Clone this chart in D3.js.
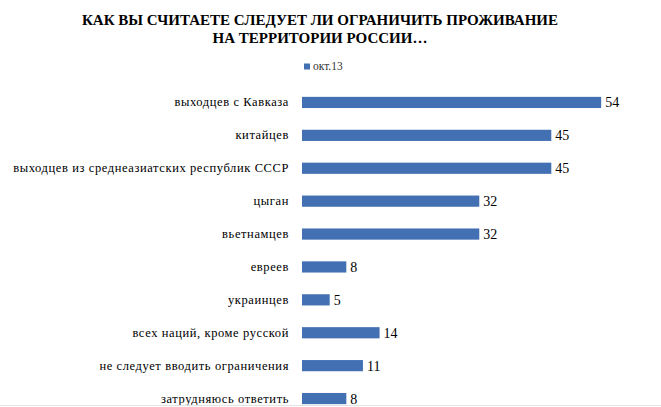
<!DOCTYPE html>
<html>
<head>
<meta charset="utf-8">
<script src="https://cdn.jsdelivr.net/npm/d3@7"></script>
<style>
body { margin: 0; background: #fff; }
svg { display: block; }
</style>
</head>
<body>
<div id="chart"></div>
<script>

var width = 661,
	height = 407,
	bar_x0 = 302,
	px_per_unit = 5.54,
	barcolor = "#4270B2",
	serif = "Tinos, 'Times New Roman', serif";

// data

var categories = [
	"выходцев с Кавказа",
	"китайцев",
	"выходцев из среднеазиатских республик СССР",
	"цыган",
	"вьетнамцев",
	"евреев",
	"украинцев",
	"всех наций, кроме русской",
	"не следует вводить ограничения",
	"затрудняюсь ответить"
];
var values = [54, 45, 45, 32, 32, 8, 5, 14, 11, 8];
var series_name = "окт.13";
var title_lines = ["КАК ВЫ СЧИТАЕТЕ СЛЕДУЕТ ЛИ ОГРАНИЧИТЬ ПРОЖИВАНИЕ", "НА ТЕРРИТОРИИ РОССИИ…"];

// scales

var X = d3.scaleLinear().domain([0, 54]).range([bar_x0, bar_x0 + 54 * px_per_unit]);
var Y = d3.scaleBand().domain(categories).range([86, 415]).paddingInner(0.66).paddingOuter(0.33);

var svg = d3.select("#chart").append("svg")
	.attr("width", width)
	.attr("height", height);

svg.append("rect").attr("width", width).attr("height", height).attr("fill", "#fff");

// title

svg.append("g").selectAll("text").data(title_lines).enter().append("text")
	.attr("x", 320)
	.attr("y", function(d, i){ return 25 + i * 18; })
	.attr("text-anchor", "middle")
	.attr("font-family", serif)
	.attr("font-size", 15)
	.attr("font-weight", "bold")
	.attr("fill", "#000")
	.text(function(d){ return d; });

// legend

svg.append("rect")
	.attr("x", 304).attr("y", 63.5).attr("width", 6).attr("height", 6)
	.attr("fill", barcolor);
svg.append("text")
	.attr("x", 313).attr("y", 70)
	.attr("font-family", serif)
	.attr("font-size", 11.5)
	.attr("fill", "#333")
	.text(series_name);

// bars

var rows = svg.append("g").selectAll("g").data(categories).enter().append("g");

rows.append("rect")
	.attr("x", X(0))
	.attr("y", function(d){ return Y(d); })
	.attr("width", function(d, i){ return X(values[i]) - X(0); })
	.attr("height", Y.bandwidth())
	.attr("fill", barcolor);

rows.append("text")
	.attr("x", 289)
	.attr("y", function(d){ return Y(d) + Y.bandwidth() / 2 + 4; })
	.attr("text-anchor", "end")
	.attr("font-family", serif)
	.attr("font-size", 12.5)
	.attr("letter-spacing", 0.6)
	.attr("fill", "#000")
	.text(function(d){ return d; });

rows.append("text")
	.attr("x", function(d, i){ return X(values[i]) + 4; })
	.attr("y", function(d){ return Y(d) + Y.bandwidth() / 2 + 5; })
	.attr("font-family", serif)
	.attr("font-size", 14)
	.attr("fill", "#000")
	.text(function(d, i){ return values[i]; });

// faint bottom border

svg.append("line")
	.attr("x1", 0).attr("x2", width)
	.attr("y1", 405.5).attr("y2", 405.5)
	.attr("stroke", "#e4e4e4");

</script>
</body>
</html>
